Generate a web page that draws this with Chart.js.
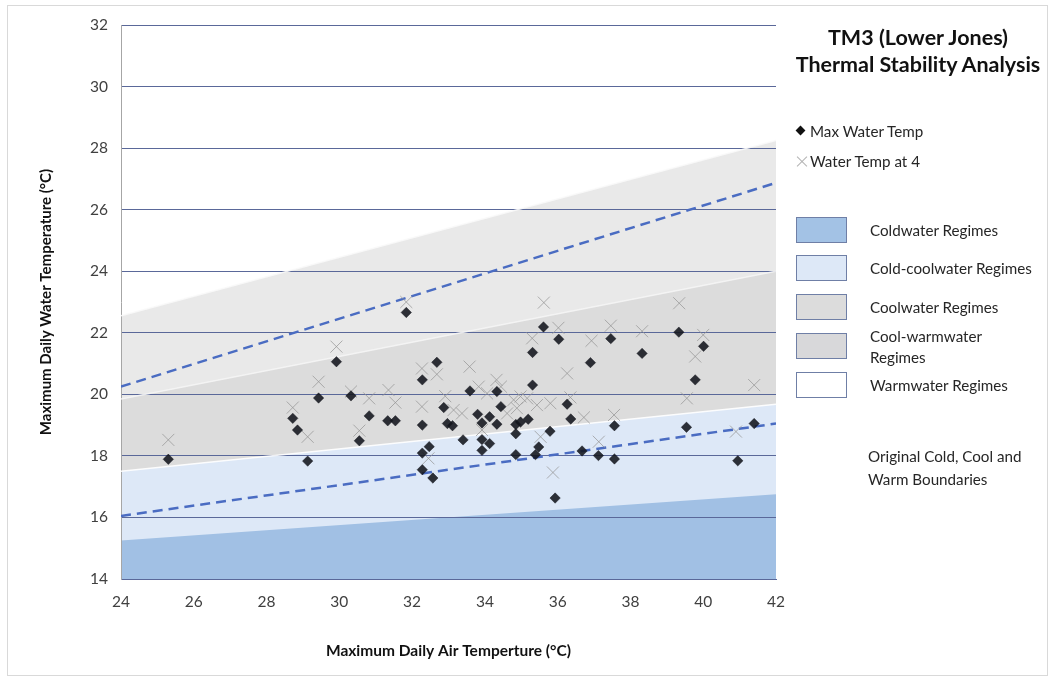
<!DOCTYPE html>
<html>
<head>
<meta charset="utf-8">
<title>TM3 (Lower Jones) Thermal Stability Analysis</title>
<script src="https://cdn.jsdelivr.net/npm/chart.js@4.4.1/dist/chart.umd.min.js"></script>
<style>
  html, body { margin: 0; padding: 0; background: #ffffff; }
  #wrap { position: relative; width: 1052px; height: 680px; font-family: Lato, "Open Sans", sans-serif; color: #1e1e1e; overflow: hidden; }
  #frame { position: absolute; left: 7px; top: 5px; width: 1041px; height: 671px; border: 1px solid #d9d9d9; box-sizing: border-box; pointer-events: none; }
  #chart { position: absolute; left: 0; top: 0; }
  .title { position: absolute; left: 788px; width: 260px; text-align: center; font-weight: 700; font-size: 21.5px; line-height: 27px; top: 24px; color: #111; }
  .lbl { position: absolute; font-size: 15.2px; line-height: 20px; white-space: nowrap; color: #262626; }
  .sw { position: absolute; left: 796px; width: 51px; height: 26px; box-sizing: border-box; border: 1px solid #6f7fa6; }
  .dia { position: absolute; left: 797px; top: 127px; width: 7px; height: 7px; background: #111; transform: rotate(45deg); }
  .crs { position: absolute; left: 796px; top: 155px; width: 12px; height: 12px; }
  .crs::before, .crs::after { content: ""; position: absolute; left: -1px; top: 5.5px; width: 14px; height: 1px; background: #b4b4b4; }
  .crs::before { transform: rotate(45deg); }
  .crs::after { transform: rotate(-45deg); }
</style>
</head>
<body>
<div id="wrap">
  <canvas id="chart" width="1052" height="680"></canvas>
  <div id="frame"></div>

  <div class="title">TM3 (Lower Jones)<br>Thermal Stability Analysis</div>

  <div class="dia"></div>
  <div class="lbl" style="left:810px; top:121px;">Max Water Temp</div>
  <div class="crs"></div>
  <div class="lbl" style="left:810px; top:151px;">Water Temp at 4</div>

  <div class="sw" style="top:217px; background:#a3c2e5;"></div>
  <div class="lbl" style="left:870px; top:220px;">Coldwater Regimes</div>
  <div class="sw" style="top:255px; background:#dde8f7;"></div>
  <div class="lbl" style="left:870px; top:258px;">Cold-coolwater Regimes</div>
  <div class="sw" style="top:294px; background:#dcdcdc;"></div>
  <div class="lbl" style="left:870px; top:297px;">Coolwater Regimes</div>
  <div class="sw" style="top:333px; background:#d8d8da;"></div>
  <div class="lbl" style="left:870px; top:326px;">Cool-warmwater</div>
  <div class="lbl" style="left:870px; top:347px;">Regimes</div>
  <div class="sw" style="top:372px; background:#ffffff;"></div>
  <div class="lbl" style="left:870px; top:375px;">Warmwater Regimes</div>

  <div class="lbl" style="left:868px; top:446px;">Original Cold, Cool and</div>
  <div class="lbl" style="left:868px; top:469px;">Warm Boundaries</div>
</div>

<script>
// Axis ranges (°C)
const airRange = [24, 42];
const waterRange = [14, 32];
const tickStep = 2;

// Regime boundaries, sampled at the two ends of the air-temperature axis
const boundaryAir = [24, 42];
const coldwaterTop = [15.25, 16.75];
const coldCoolTop = [17.5, 19.68];
const coolwaterTop = [19.85, 24.0];
const coolWarmTop = [22.55, 28.25];

// Original cold / cool / warm boundaries (dashed)
const originalLower = [16.05, 19.05];
const originalUpper = [20.25, 26.87];

// Daily maximum water temperature vs. daily maximum air temperature
const maxAir = [25.30, 28.72, 28.85, 29.13, 29.43, 29.92, 30.32, 30.55, 30.82, 31.33,
                31.54, 31.84, 32.28, 32.28, 32.28, 32.28, 32.47, 32.57, 32.68, 32.87,
                32.97, 33.11, 33.40, 33.59, 33.80, 33.92, 33.92, 33.92, 34.13, 34.13,
                34.33, 34.33, 34.44, 34.85, 34.85, 34.85, 34.98, 35.19, 35.31, 35.31,
                35.39, 35.48, 35.61, 35.79, 35.93, 36.03, 36.26, 36.36, 36.67, 36.90,
                37.12, 37.46, 37.56, 37.56, 38.32, 39.33, 39.54, 39.78, 40.01, 40.95,
                41.40];
const maxWater = [17.89, 19.22, 18.84, 17.83, 19.88, 21.06, 19.95, 18.49, 19.30, 19.14,
                  19.14, 22.66, 20.47, 19.00, 18.09, 17.55, 18.30, 17.28, 21.04, 19.57,
                  19.05, 18.98, 18.52, 20.11, 19.35, 19.07, 18.53, 18.18, 19.27, 18.40,
                  20.09, 19.03, 19.60, 19.02, 18.72, 18.04, 19.10, 19.19, 21.36, 20.30,
                  18.04, 18.29, 22.19, 18.80, 16.63, 21.79, 19.68, 19.20, 18.16, 21.03,
                  18.01, 21.81, 18.98, 17.90, 21.33, 22.02, 18.93, 20.47, 21.56, 17.84,
                  19.05];

// Water temperature at 4 pm
const at4Air = [25.30, 28.72, 29.13, 29.43, 29.92, 30.32, 30.55, 30.82, 31.35, 31.54,
                31.84, 32.27, 32.27, 32.45, 32.68, 32.91, 33.14, 33.37, 33.58, 33.83,
                33.92, 34.06, 34.32, 34.44, 34.61, 34.79, 34.88, 34.98, 35.16, 35.30,
                35.43, 35.53, 35.62, 35.80, 35.87, 36.02, 36.26, 36.35, 36.72, 36.93,
                37.13, 37.46, 37.55, 38.32, 39.34, 39.55, 39.78, 40.00, 40.90, 41.40];
const at4Water = [18.52, 19.57, 18.62, 20.41, 21.55, 20.09, 18.82, 19.87, 20.14, 19.73,
                  23.00, 20.84, 19.60, 17.92, 20.65, 19.94, 19.49, 19.38, 20.90, 20.25,
                  18.84, 20.03, 20.47, 20.25, 19.38, 19.82, 19.55, 19.93, 19.87, 21.82,
                  19.65, 18.62, 22.98, 19.71, 17.46, 22.16, 20.68, 19.90, 19.25, 21.74,
                  18.46, 22.23, 19.33, 22.05, 22.96, 19.87, 21.23, 21.93, 18.79, 20.30];

const pts = (xs, ys) => xs.map((x, i) => ({ x: x, y: ys[i] }));

const areaSet = (label, ys, color, border) => ({
  label: label,
  data: pts(boundaryAir, ys),
  showLine: true,
  fill: 'start',
  backgroundColor: color,
  borderColor: border || 'rgba(0,0,0,0)',
  borderWidth: border ? 1.5 : 0,
  pointRadius: 0,
  tension: 0
});

const dashSet = (label, ys) => ({
  label: label,
  data: pts(boundaryAir, ys),
  showLine: true,
  fill: false,
  borderColor: '#4a6cc2',
  borderWidth: 2.5,
  borderDash: [10, 6],
  pointRadius: 0
});

const ctx = document.getElementById('chart').getContext('2d');
new Chart(ctx, {
  type: 'scatter',
  data: {
    datasets: [
      {
        label: 'Max Water Temp',
        data: pts(maxAir, maxWater),
        pointStyle: 'rectRot',
        pointRadius: 5.2,
        pointBackgroundColor: 'rgba(18,20,28,0.88)',
        pointBorderColor: 'rgba(18,20,28,0.88)',
        pointBorderWidth: 0.5
      },
      {
        label: 'Water Temp at 4',
        data: pts(at4Air, at4Water),
        pointStyle: 'crossRot',
        pointRadius: 8.5,
        pointBorderColor: 'rgba(150,150,150,0.75)',
        pointBorderWidth: 1
      },
      dashSet('Original lower boundary', originalLower),
      dashSet('Original upper boundary', originalUpper),
      areaSet('Coldwater Regimes', coldwaterTop, '#a1c0e4'),
      areaSet('Cold-coolwater Regimes', coldCoolTop, '#dde8f7', 'rgba(255,255,255,0.9)'),
      areaSet('Coolwater Regimes', coolwaterTop, '#dcdcdc', 'rgba(245,245,245,0.9)'),
      areaSet('Cool-warmwater Regimes', coolWarmTop, '#e9e9e9', 'rgba(250,250,250,0.9)')
    ]
  },
  options: {
    responsive: false,
    animation: false,
    events: [],
    layout: { padding: { top: 25, right: 276, bottom: 0, left: 0 } },
    plugins: {
      legend: { display: false },
      tooltip: { enabled: false },
      filler: { drawTime: 'beforeDraw' }
    },
    scales: {
      x: {
        type: 'linear',
        min: airRange[0],
        max: airRange[1],
        afterFit: (s) => { s.height = 101; },
        ticks: {
          stepSize: tickStep,
          padding: 14,
          color: '#404040',
          font: { family: 'Lato', size: 15.5 }
        },
        grid: { display: false, drawTicks: false },
        border: { display: true, color: '#5a6899', width: 1 },
        title: {
          display: true,
          text: 'Maximum Daily Air Temperture (°C)',
          color: '#111',
          font: { family: 'Lato', size: 15.5, weight: 'bold' },
          padding: { top: 0, bottom: 20 }
        }
      },
      y: {
        type: 'linear',
        min: waterRange[0],
        max: waterRange[1],
        afterFit: (s) => { s.width = 121; },
        ticks: {
          stepSize: tickStep,
          padding: 13,
          color: '#404040',
          font: { family: 'Lato', size: 15.5 }
        },
        grid: { color: '#5a6899', lineWidth: 1, drawTicks: false },
        border: { display: true, color: '#a6a6a6', width: 1 },
        title: {
          display: true,
          text: 'Maximum Daily Water Temperature (°C)',
          color: '#111',
          font: { family: 'Lato', size: 15, weight: 'bold' },
          padding: { top: 37, bottom: 0 }
        }
      }
    }
  }
});
</script>
</body>
</html>
